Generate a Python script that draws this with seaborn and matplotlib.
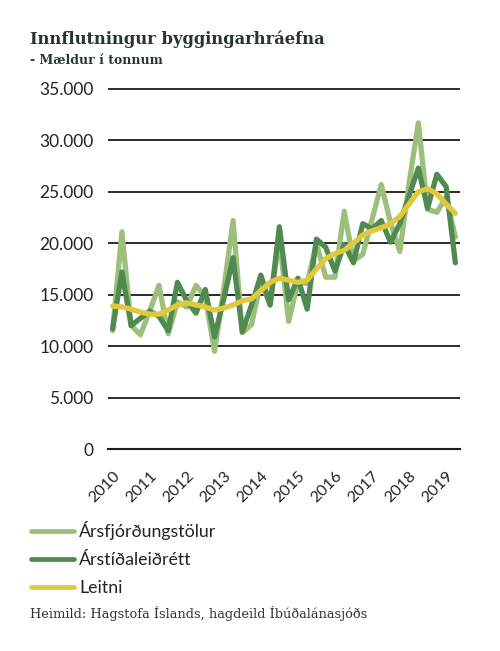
import numpy as np
import pandas as pd
import matplotlib
matplotlib.use('Agg')
import matplotlib.pyplot as plt
import matplotlib.ticker as mticker
import seaborn as sns

# quarterly imports of building materials, tonnes (2010Q1 - 2019Q2)
years = ['2010', '2011', '2012', '2013', '2014', '2015', '2016', '2017', '2018', '2019']
arsfj = [11500, 21100, 12000, 11100, 13400, 15900, 11200, 14300, 13800, 15900,
         14800, 9500, 15500, 22200, 11300, 12100, 16300, 14000, 20500, 12400,
         16200, 16100, 20000, 16700, 16700, 23100, 18300, 18900, 22300, 25700,
         22000, 19200, 25800, 31700, 23300, 23000, 24500, 20600]
arstid = [11700, 17200, 12000, 12700, 13400, 12900, 11500, 16200, 14400, 13200,
          15500, 10900, 14600, 18600, 11400, 14000, 16900, 14000, 21600, 14500,
          16600, 13600, 20400, 19600, 17300, 19900, 18100, 21900, 21400, 22200,
          20100, 21900, 24600, 27300, 23400, 26700, 25500, 18100]
leitni = [13900, 13800, 13600, 13300, 13100, 13100, 13500, 14000, 14200, 14000,
          13800, 13500, 13700, 14000, 14400, 14600, 15400, 16200, 16600, 16400,
          16200, 16400, 17500, 18500, 19000, 19300, 20000, 20800, 21200, 21500,
          21900, 22600, 23800, 25000, 25300, 24800, 23800, 22900]
names = ['Ársfjórðungstölur', 'Árstíðaleiðrétt', 'Leitni']
colors = ['#9dbf7c', '#4f8a50', '#e2c83c']

sns.set_style('white')
plt.rcParams['font.family'] = ['Lato', 'DejaVu Sans']

n = len(arsfj)
df = pd.DataFrame({'q': list(range(n)) * 3,
                   'val': arsfj + arstid + leitni,
                   'series': [names[0]] * n + [names[1]] * n + [names[2]] * n})

fig = plt.figure(figsize=(5, 6.51), dpi=100)
ax = fig.add_axes([108/500, 1-449/651, 352/500, (449-85.8)/651])

sns.lineplot(data=df, x='q', y='val', hue='series', hue_order=names,
             palette=colors, linewidth=3.8, ax=ax, legend=False, sort=False)

ax.set_xlim(-0.5, n - 0.5)
ax.set_ylim(0, 35300)
ax.set_yticks(np.arange(0, 35001, 5000))
ax.yaxis.set_major_formatter(mticker.FuncFormatter(lambda v, p: '{:,.0f}'.format(v).replace(',', '.')))
ax.grid(axis='y', color='#1a1a1a', linewidth=1.3)
ax.set_axisbelow(True)
for s in ['top', 'right', 'left']:
    ax.spines[s].set_visible(False)
ax.spines['bottom'].set_color('#1a1a1a')
ax.spines['bottom'].set_linewidth(1.5)
ax.spines['bottom'].set_zorder(5)

ax.set_xticks(np.arange(0, n, 4))
ax.set_xticklabels(years, rotation=45, ha='right', rotation_mode='anchor', fontsize=11.5, color='#222222')
ax.set_xticks(np.arange(-0.5, n, 1), minor=True)
ax.tick_params(axis='x', which='major', length=0, pad=14)
ax.tick_params(axis='x', which='minor', length=5, width=1.2, color='#1a1a1a', direction='out')
ax.tick_params(axis='y', length=0, pad=10.5, labelsize=12.5, labelcolor='#222222')
ax.set_xlabel('')
ax.set_ylabel('')

fig.text(30/500, 1-44/651, 'Innflutningur byggingarhráefna', family='DejaVu Serif',
         fontweight='bold', fontsize=11.8, color='#263636')
fig.text(30/500, 1-64/651, '- Mældur í tonnum', family='DejaVu Serif',
         fontweight='bold', fontsize=9, color='#263636')
fig.text(30/500, 1-618/651, 'Heimild: Hagstofa Íslands, hagdeild Íbúðalánasjóðs',
         family='DejaVu Serif', fontsize=9.4, color='#333333')

handles = [plt.Line2D([], [], color=c, linewidth=3.4) for c in colors]
fig.legend(handles, names, loc='upper left', bbox_to_anchor=(31/500, 1-521/651),
           frameon=False, fontsize=12.8, handlelength=2.4, handletextpad=0.3,
           labelspacing=0.68, borderpad=0, borderaxespad=0, labelcolor='#222222')

fig.savefig('out.png', dpi=100)
